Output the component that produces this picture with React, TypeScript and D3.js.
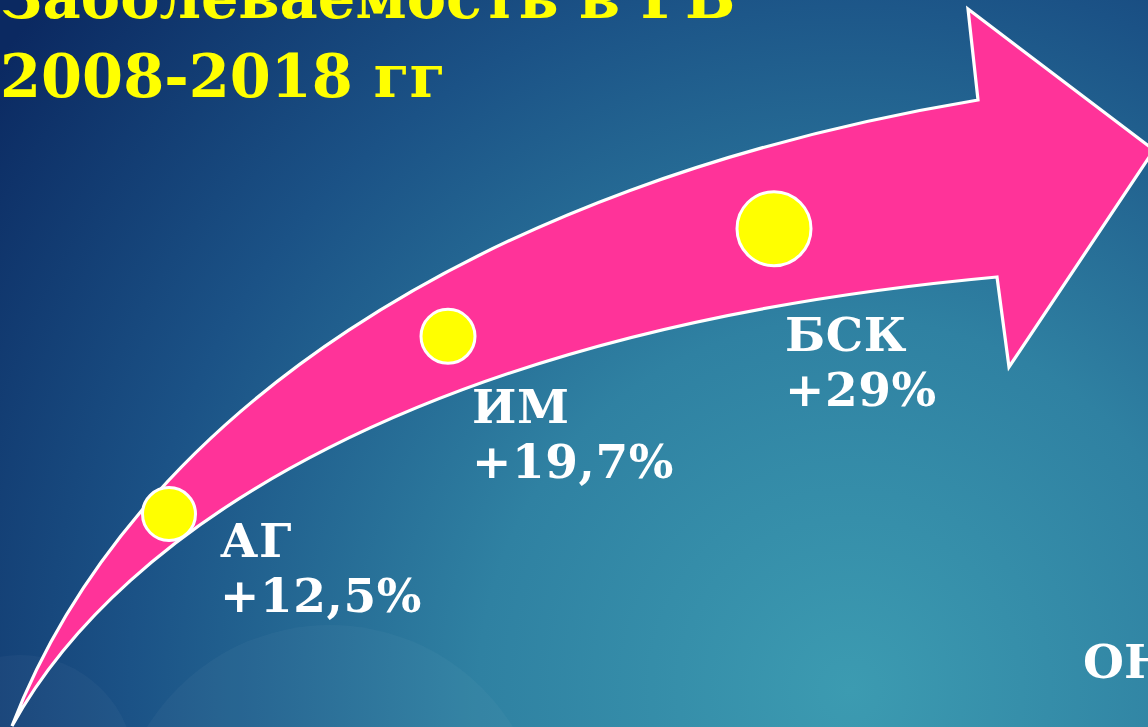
import React from "react";
import * as d3 from "d3";

const W = 1148;
const H = 727;

// Title lines
const titleLines = ["Заболеваемость в РБ", "2008-2018 гг"];

// Categories and their growth over 2008-2018
const categories = ["АГ", "ИМ", "БСК"];
const growth = [12.5, 19.7, 29];
const growthLabels = ["+12,5%", "+19,7%", "+29%"];
const extraCategory = "ОН";

// Arrow outline (decorative shape): cubic Bézier edges of the shaft and the head
const upperBezier: [number, number][] = [[12, 726], [130, 420], [470, 185], [978, 100]];
const lowerBezier: [number, number][] = [[12, 726], [120, 530], [420, 330], [997, 277]];
const arrowHead: [number, number][] = [[968, 9], [1154, 150], [1009, 367], [997, 277]];

function bez(p: [number, number][], t: number): [number, number] {
  const a = (1 - t) ** 3, b = 3 * (1 - t) ** 2 * t, c = 3 * (1 - t) * t * t, d = t ** 3;
  return [
    a * p[0][0] + b * p[1][0] + c * p[2][0] + d * p[3][0],
    a * p[0][1] + b * p[1][1] + c * p[2][1] + d * p[3][1],
  ];
}

export default function App() {
  const ts = d3.range(0, 1.0001, 0.005);
  const upperPts = ts.map((t) => bez(upperBezier, t));
  const lowerPts = ts.map((t) => bez(lowerBezier, t));

  const path = d3.path();
  path.moveTo(upperBezier[0][0], upperBezier[0][1]);
  path.bezierCurveTo(upperBezier[1][0], upperBezier[1][1], upperBezier[2][0], upperBezier[2][1], upperBezier[3][0], upperBezier[3][1]);
  arrowHead.forEach((p) => path.lineTo(p[0], p[1]));
  path.bezierCurveTo(lowerBezier[2][0], lowerBezier[2][1], lowerBezier[1][0], lowerBezier[1][1], lowerBezier[0][0], lowerBezier[0][1]);
  path.closePath();

  // marker positions: x from growth value, y on the middle of the arrow band
  const xScale = d3.scaleLinear().domain(growth).range([169, 448, 774]);
  const upperY = d3.scaleLinear().domain(upperPts.map((p) => p[0])).range(upperPts.map((p) => p[1]));
  const lowerY = d3.scaleLinear().domain(lowerPts.map((p) => p[0])).range(lowerPts.map((p) => p[1]));
  const rScale = d3.scaleOrdinal<string, number>().domain(categories).range([26.5, 27, 37]);
  const labelOffset = d3.scaleOrdinal<string, [number, number]>().domain(categories).range([
    [51, 43], [24, 87], [11, 122],
  ]);
  const yNudge = d3.scaleOrdinal<string, number>().domain(categories).range([0, 3, 3]);

  const font = "'DejaVu Serif', 'Liberation Serif', serif";

  return (
    <svg
      width={W}
      height={H}
      style={{ position: "fixed", left: 0, top: 0, display: "block" }}
    >
      <defs>
        <radialGradient id="bg" gradientUnits="userSpaceOnUse" cx={850} cy={690} r={1060}>
          <stop offset="0" stopColor="#3c9bb1" />
          <stop offset="0.35" stopColor="#2f81a2" />
          <stop offset="0.68" stopColor="#1b5286" />
          <stop offset="1" stopColor="#0b2961" />
        </radialGradient>
      </defs>
      <rect x={0} y={0} width={W} height={H} fill="url(#bg)" />
      <circle cx={20} cy={770} r={115} fill="#ffffff" opacity={0.03} />
      <circle cx={330} cy={840} r={215} fill="#ffffff" opacity={0.03} />

      {titleLines.map((t, i) => (
        <text
          key={t}
          x={0}
          y={18 + i * 79}
          fill="#ffff00"
          fontFamily={font}
          fontWeight="bold"
          fontSize={59}
        >
          {t}
        </text>
      ))}

      <path d={path.toString()} fill="#ff3399" stroke="#ffffff" strokeWidth={3.2} strokeLinejoin="miter" />

      {categories.map((c, i) => {
        const cx = xScale(growth[i]);
        const cy = (upperY(cx) + lowerY(cx)) / 2 + yNudge(c);
        const [dx, dy] = labelOffset(c);
        return (
          <g key={c}>
            <circle cx={cx} cy={cy} r={rScale(c)} fill="#ffff00" stroke="#ffffff" strokeWidth={3} />
            <text
              x={cx + dx}
              y={cy + dy}
              fill="#ffffff"
              fontFamily={font}
              fontWeight="bold"
              fontSize={47}
              letterSpacing={0.6}
            >
              <tspan x={cx + dx}>{c}</tspan>
              <tspan x={cx + dx} dy={55}>{growthLabels[i]}</tspan>
            </text>
          </g>
        );
      })}

      <text x={1083} y={678} fill="#ffffff" fontFamily={font} fontWeight="bold" fontSize={47}>
        {extraCategory}
      </text>
    </svg>
  );
}
